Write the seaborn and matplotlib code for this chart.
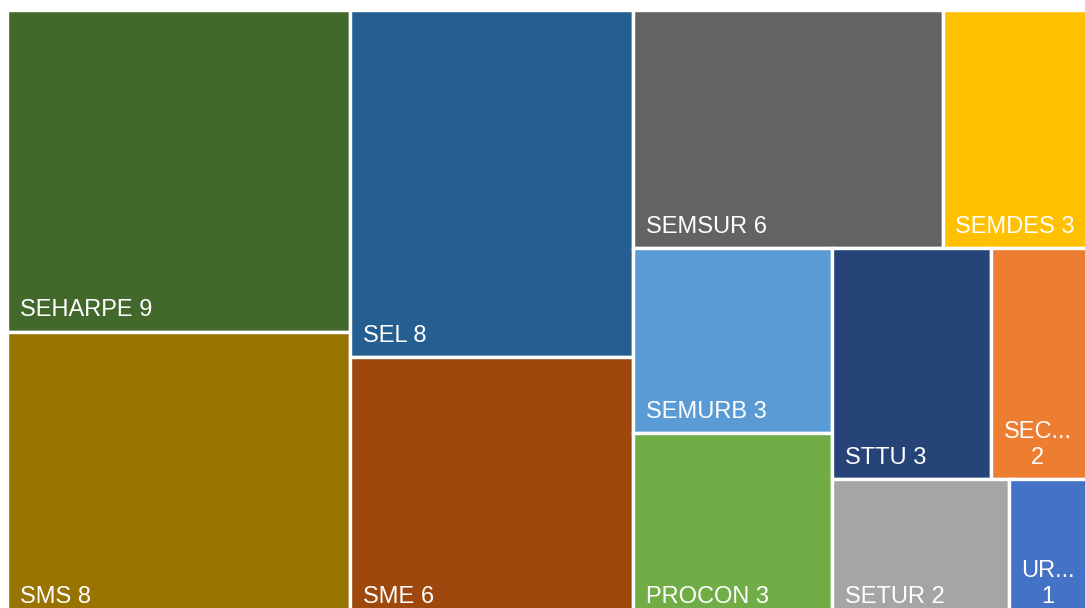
import matplotlib
matplotlib.use("Agg")
import matplotlib.pyplot as plt
from matplotlib.patches import Rectangle
import seaborn as sns

# ---- data ----
names = ["SEHARPE", "SMS", "SEL", "SME", "SEMSUR", "SEMDES", "SEMURB",
         "PROCON", "STTU", "SEC...", "SETUR", "UR..."]
values = [9, 8, 8, 6, 6, 3, 3, 3, 3, 2, 2, 1]
colors = ["#43682B", "#997300", "#255E91", "#9E480E", "#636363", "#FFC000",
          "#5B9BD5", "#70AD47", "#264478", "#ED7D31", "#A5A5A5", "#4472C4"]

# ---- layout (pixel canvas) ----
FIG_W, FIG_H = 1085, 608
X0, Y0, W, H = 7.3, 9.8, 1090.0, 608.0
GAP_PX = 3.4
PAD_X, PAD_B = 10.8, 13.5
FONT_PT = 17


def mean_ratio(row, side):
    s = sum(row)
    rs = [max(side * side * r / (s * s), (s * s) / (side * side * r)) for r in row]
    return sum(rs) / len(rs)


def squarify(vals, x, y, w, h):
    total = sum(vals)
    areas = [v / total * w * h for v in vals]
    rects = []
    i = 0
    while i < len(areas):
        side = min(w, h)
        row = [areas[i]]
        j = i + 1
        while j < len(areas) and mean_ratio(row + [areas[j]], side) <= mean_ratio(row, side):
            row.append(areas[j])
            j += 1
        s = sum(row)
        if w >= h:
            cw = s / h
            yy = y
            for a in row:
                rh = a / cw
                rects.append((x, yy, cw, rh))
                yy += rh
            x += cw
            w -= cw
        else:
            rh = s / w
            xx = x
            for a in row:
                rw = a / rh
                rects.append((xx, y, rw, rh))
                xx += rw
            y += rh
            h -= rh
        i = j
    return rects


sns.set_theme(style="white")
plt.rcParams["font.family"] = ["Liberation Sans", "DejaVu Sans"]
palette = sns.color_palette(colors)

fig = plt.figure(figsize=(FIG_W / 100, FIG_H / 100), dpi=100)
ax = fig.add_axes([0, 0, 1, 1])
ax.set_xlim(0, FIG_W)
ax.set_ylim(FIG_H, 0)
ax.axis("off")

rects = squarify(values, X0, Y0, W, H)
lw_pt = GAP_PX * 72 / 100
fig.canvas.draw()
renderer = fig.canvas.get_renderer()
half = GAP_PX / 2

for (x, y, w, h), name, val, col in zip(rects, names, values, palette):
    ax.add_patch(Rectangle((x, y), w, h, facecolor=col, edgecolor="white",
                           linewidth=lw_pt))
    left = x + half + PAD_X
    bottom = y + h - half - PAD_B
    label = f"{name} {val}"
    t = ax.text(left, bottom, label, color="white", fontsize=FONT_PT,
                ha="left", va="baseline")
    bb = t.get_window_extent(renderer=renderer)
    if bb.width > (w - GAP_PX) - 2 * PAD_X:
        t.set_text(f"{name}\n{val}")
        t.set_multialignment("center")

fig.savefig("out.png", dpi=100, facecolor="white")
